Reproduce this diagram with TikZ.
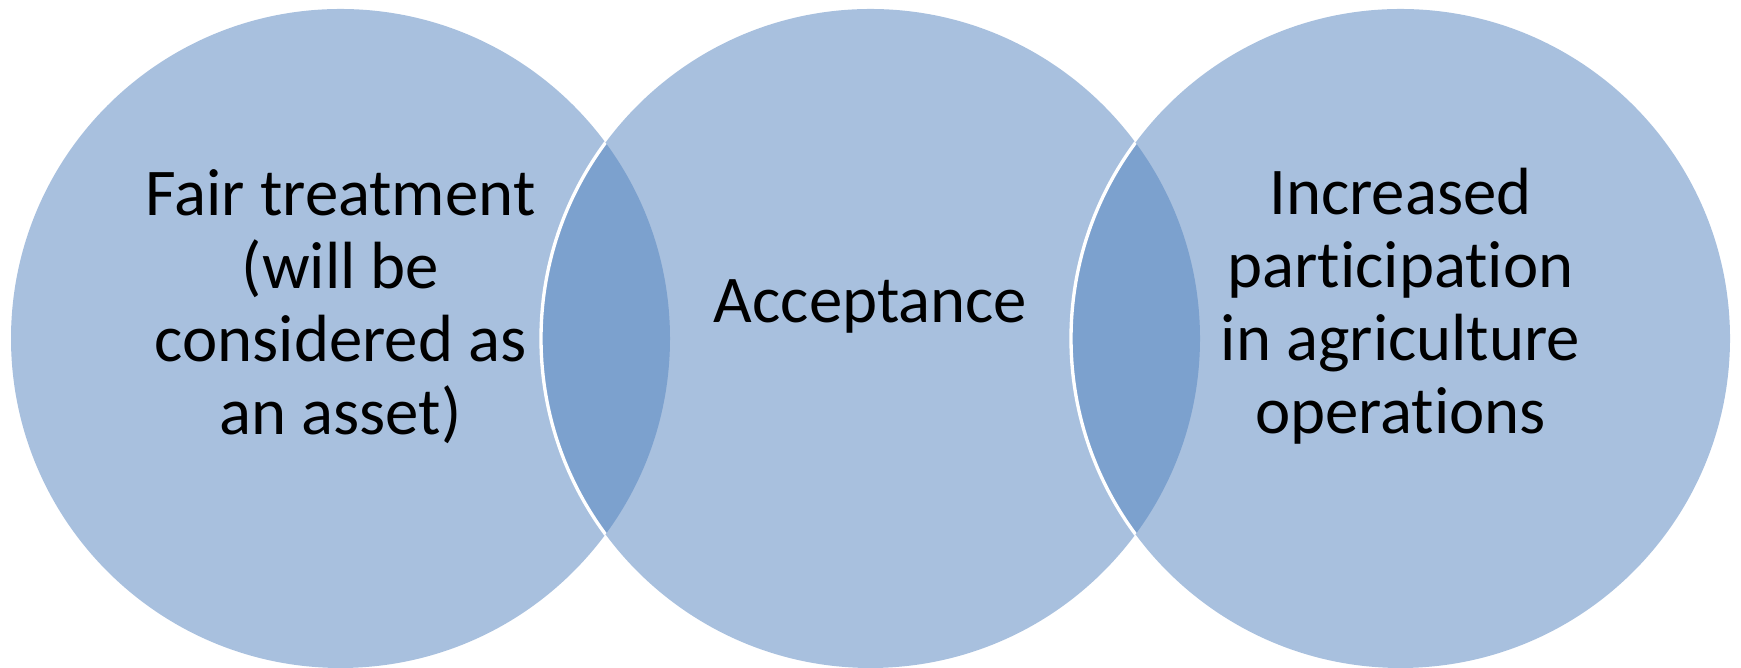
\documentclass[tikz,border=0pt]{standalone}
\usepackage{fontspec}
\setmainfont{Carlito}[Ligatures=NoCommon]
\definecolor{circfill}{RGB}{168,192,222}
\definecolor{lensfill}{RGB}{124,161,206}

\begin{document}
\begin{tikzpicture}[
    bubble/.style={circle, fill=circfill, minimum size=6.59cm, inner sep=0pt},
    bubbletext/.style={align=center, font=\fontsize{19}{20.8}\selectfont, text=black},
    rim/.style={white, line width=0.95pt}
]
\useasboundingbox (0,0) rectangle (17.41,6.68);

\node[bubble] (fair) at (3.405,3.295) {};
\node[bubble] (accept) at (8.705,3.295) {};
\node[bubble] (incr) at (14.005,3.295) {};

% overlaps
\begin{scope}
    \clip (fair.center) circle (3.295);
    \fill[lensfill] (accept.center) circle (3.295);
    \draw[rim] (accept.center) circle (3.295);
\end{scope}
\begin{scope}
    \clip (accept.center) circle (3.295);
    \fill[lensfill] (incr.center) circle (3.295);
    \draw[rim] (incr.center) circle (3.295);
\end{scope}

\node[bubbletext] (fairtext) at ([yshift=3.2mm]fair.center) {Fair treatment\\(will be\\considered as\\an asset)};
\node[bubbletext] (accepttext) at ([yshift=3.2mm]accept.center) {Acceptance};
\node[bubbletext] (incrtext) at ([yshift=3.2mm]incr.center) {Increased\\participation\\in agriculture\\operations};
\end{tikzpicture}
\end{document}
